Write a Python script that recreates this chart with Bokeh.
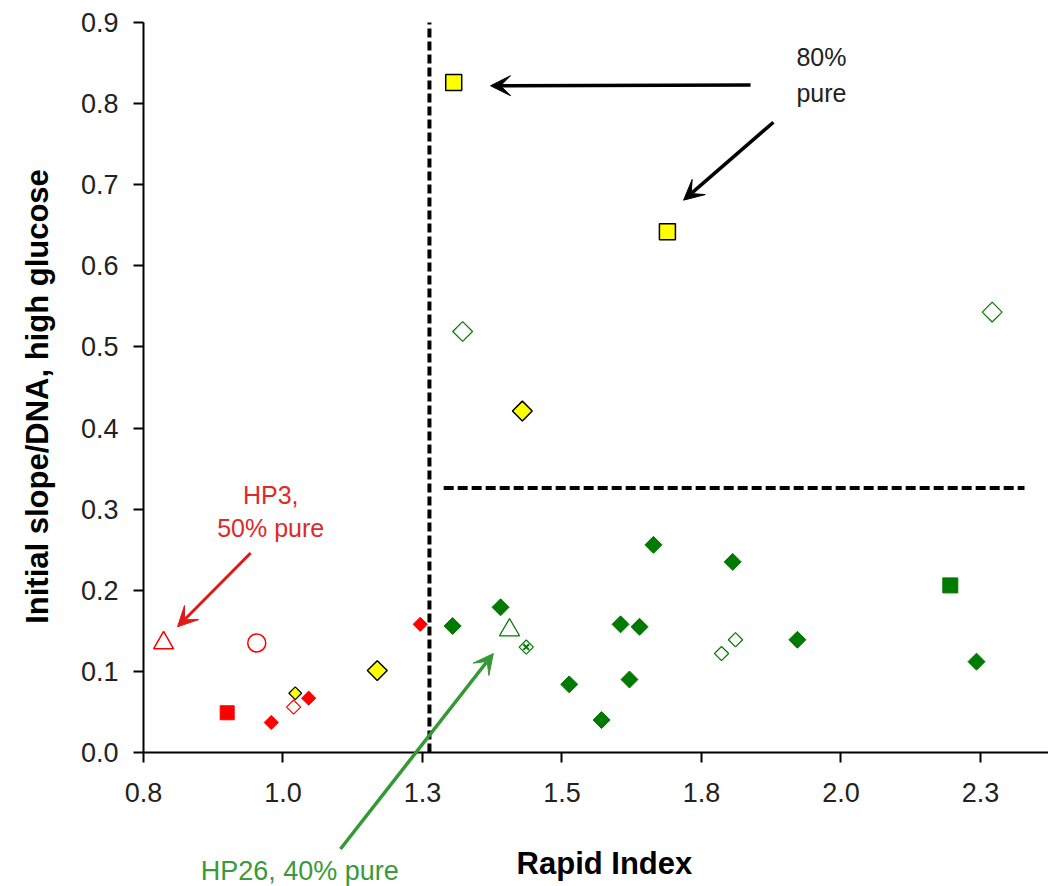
import numpy as np
from bokeh.plotting import figure
from bokeh.models import Range1d, FixedTicker, Arrow, VeeHead, Label
from bokeh.embed import file_html
from bokeh.resources import INLINE

# ---------------- data ----------------
x_tick_values = [0.75, 1.0, 1.25, 1.5, 1.75, 2.0, 2.25]
x_tick_labels = ["0.8", "1.0", "1.3", "1.5", "1.8", "2.0", "2.3"]
y_tick_values = [0.0, 0.1, 0.2, 0.3, 0.4, 0.5, 0.6, 0.7, 0.8, 0.9]
y_tick_labels = ["0.0", "0.1", "0.2", "0.3", "0.4", "0.5", "0.6", "0.7", "0.8", "0.9"]

red_diamond_x = [0.979, 1.046, 1.246]
red_diamond_y = [0.037, 0.067, 0.158]
red_square_x = [0.900]
red_square_y = [0.049]
red_triangle_x = [0.786]
red_triangle_y = [0.135]
red_circle_x = [0.953]
red_circle_y = [0.135]
red_open_diamond_x = [1.019]
red_open_diamond_y = [0.056]

yellow_square_x = [1.306, 1.689]
yellow_square_y = [0.826, 0.642]
yellow_diamond_x = [1.169, 1.429]
yellow_diamond_y = [0.101, 0.421]
yellow_small_diamond_x = [1.022]
yellow_small_diamond_y = [0.073]

green_diamond_x = [1.304, 1.390, 1.513, 1.571, 1.605, 1.639, 1.621, 1.664, 1.806, 1.922, 2.243]
green_diamond_y = [0.156, 0.179, 0.084, 0.040, 0.158, 0.155, 0.090, 0.256, 0.235, 0.139, 0.112]
green_square_x = [2.196]
green_square_y = [0.206]
green_triangle_x = [1.406]
green_triangle_y = [0.151]
green_open_diamond_x = [1.322, 2.271]
green_open_diamond_y = [0.519, 0.543]
green_small_open_diamond_x = [1.436, 1.786, 1.811]
green_small_open_diamond_y = [0.130, 0.122, 0.139]
green_cross_x = [1.436]
green_cross_y = [0.130]

threshold_x = 1.2625
threshold_y = 0.326

# annotation arrows: (x_start, y_start, x_end, y_end)
arrow_black_1 = (1.838, 0.823, 1.372, 0.822)
arrow_black_2 = (1.879, 0.777, 1.718, 0.681)
arrow_red = (0.942, 0.246, 0.811, 0.155)
arrow_green = (1.103, -0.119, 1.377, 0.122)

x_title = "Rapid Index"
y_title = "Initial slope/DNA, high glucose"

# ---------------- figure ----------------
RED = "#ff0000"
GREEN = "#007a00"
YELLOW = "#ffff00"
FONT = "Liberation Sans"

X0 = 0.75 - 143 / 558.0
Y_PX = 730 / 0.9
p = figure(width=1048, height=886, output_backend="svg", toolbar_location=None,
           x_range=Range1d(X0, 2.372), y_range=Range1d(-134 / Y_PX, 0.9 + 22 / Y_PX),
           min_border_left=0, min_border_right=0, min_border_top=0, min_border_bottom=0)
p.outline_line_color = None
p.xgrid.visible = False
p.ygrid.visible = False
p.background_fill_color = "white"
p.border_fill_color = "white"

# threshold lines
p.line([threshold_x, threshold_x], [0.0, 0.9], line_color="black", line_width=4, line_dash="9 4")
p.line([1.288, 2.329], [threshold_y, threshold_y], line_color="black", line_width=4, line_dash="10 4")

D45 = np.pi / 4

# red series
p.scatter(red_square_x, red_square_y, marker="square", size=14, fill_color=RED, line_color=RED)
p.scatter(red_diamond_x, red_diamond_y, marker="square", angle=D45, size=10, fill_color=RED, line_color=RED)
p.scatter(red_triangle_x, red_triangle_y, marker="triangle", size=20, fill_color=None, line_color=RED, line_width=1.5)
p.scatter(red_circle_x, red_circle_y, marker="circle", size=18, fill_color=None, line_color=RED, line_width=1.5)
p.scatter(red_open_diamond_x, red_open_diamond_y, marker="square", angle=D45, size=10, fill_color=None, line_color=RED, line_width=1.2)

# yellow series
p.scatter(yellow_square_x, yellow_square_y, marker="square", size=16, fill_color=YELLOW, line_color="black", line_width=1.5)
p.scatter(yellow_diamond_x, yellow_diamond_y, marker="square", angle=D45, size=14, fill_color=YELLOW, line_color="black", line_width=1.5)
p.scatter(yellow_small_diamond_x, yellow_small_diamond_y, marker="square", angle=D45, size=9, fill_color=YELLOW, line_color="black", line_width=1.2)

# green series
p.scatter(green_diamond_x, green_diamond_y, marker="square", angle=D45, size=12, fill_color=GREEN, line_color=GREEN)
p.scatter(green_square_x, green_square_y, marker="square", size=15, fill_color=GREEN, line_color=GREEN)
p.scatter(green_triangle_x, green_triangle_y, marker="triangle", size=20, fill_color=None, line_color=GREEN, line_width=1.3)
p.scatter(green_open_diamond_x, green_open_diamond_y, marker="square", angle=D45, size=14, fill_color=None, line_color=GREEN, line_width=1.2)
p.scatter(green_small_open_diamond_x, green_small_open_diamond_y, marker="square", angle=D45, size=10, fill_color=None, line_color=GREEN, line_width=1.2)
p.scatter(green_cross_x, green_cross_y, marker="x", size=8, line_color=GREEN, line_width=2)

# arrows
def add_arrow(coords, color, width):
    xs, ys, xe, ye = coords
    p.add_layout(Arrow(end=VeeHead(size=20, fill_color=color, line_color=color, line_width=1),
                       x_start=xs, y_start=ys, x_end=xe, y_end=ye,
                       line_color=color, line_width=width))

add_arrow(arrow_black_1, "black", 3.5)
add_arrow(arrow_black_2, "black", 3.5)
add_arrow(arrow_red, "#e01818", 3)
add_arrow(arrow_green, "#339933", 3.5)

# text annotations
def add_text(x, y, text, color, size, bold=False, angle=0.0, baseline="middle"):
    p.add_layout(Label(x=x, y=y, text=text, text_color=color, text_font=FONT,
                       text_font_size=size, text_align="center", text_baseline=baseline,
                       text_font_style="bold" if bold else "normal", angle=angle))

add_text(1.965, 0.858, "80%", "#222222", "25px")
add_text(1.965, 0.813, "pure", "#222222", "25px")
add_text(0.978, 0.317, "HP3,", "#dd2a2a", "25px")
add_text(0.978, 0.277, "50% pure", "#dd2a2a", "25px")
add_text(1.030, -0.146, "HP26, 40% pure", "#3a9a3a", "27px")

# axis titles
add_text(1.5761, -0.1369, x_title, "black", "31px", bold=True, baseline="alphabetic")
add_text(X0 + 37 / 558.0, 0.4389, y_title, "black", "31px", bold=True, angle=np.pi / 2, baseline="alphabetic")

# axes
for ax in (p.xaxis[0], p.yaxis[0]):
    ax.axis_line_color = "black"
    ax.axis_line_width = 2
    ax.major_tick_line_color = "black"
    ax.major_tick_line_width = 2
    ax.major_tick_out = 10
    ax.major_tick_in = 0
    ax.minor_tick_line_color = None
    ax.major_label_text_font = FONT
    ax.major_label_text_font_size = "27px"
    ax.major_label_text_color = "#222222"

p.xaxis.ticker = FixedTicker(ticks=x_tick_values)
p.xaxis.major_label_overrides = dict(zip(x_tick_values, x_tick_labels))
p.xaxis.fixed_location = 0.0
p.xaxis.bounds = (0.75, 2.372)
p.yaxis.ticker = FixedTicker(ticks=y_tick_values)
p.yaxis.major_label_overrides = dict(zip(y_tick_values, y_tick_labels))
p.yaxis.fixed_location = 0.75
p.yaxis.bounds = (0.0, 0.9)
p.xaxis.major_label_standoff = 20
p.yaxis.major_label_standoff = 15

open("out.html", "w").write(file_html(p, INLINE))
